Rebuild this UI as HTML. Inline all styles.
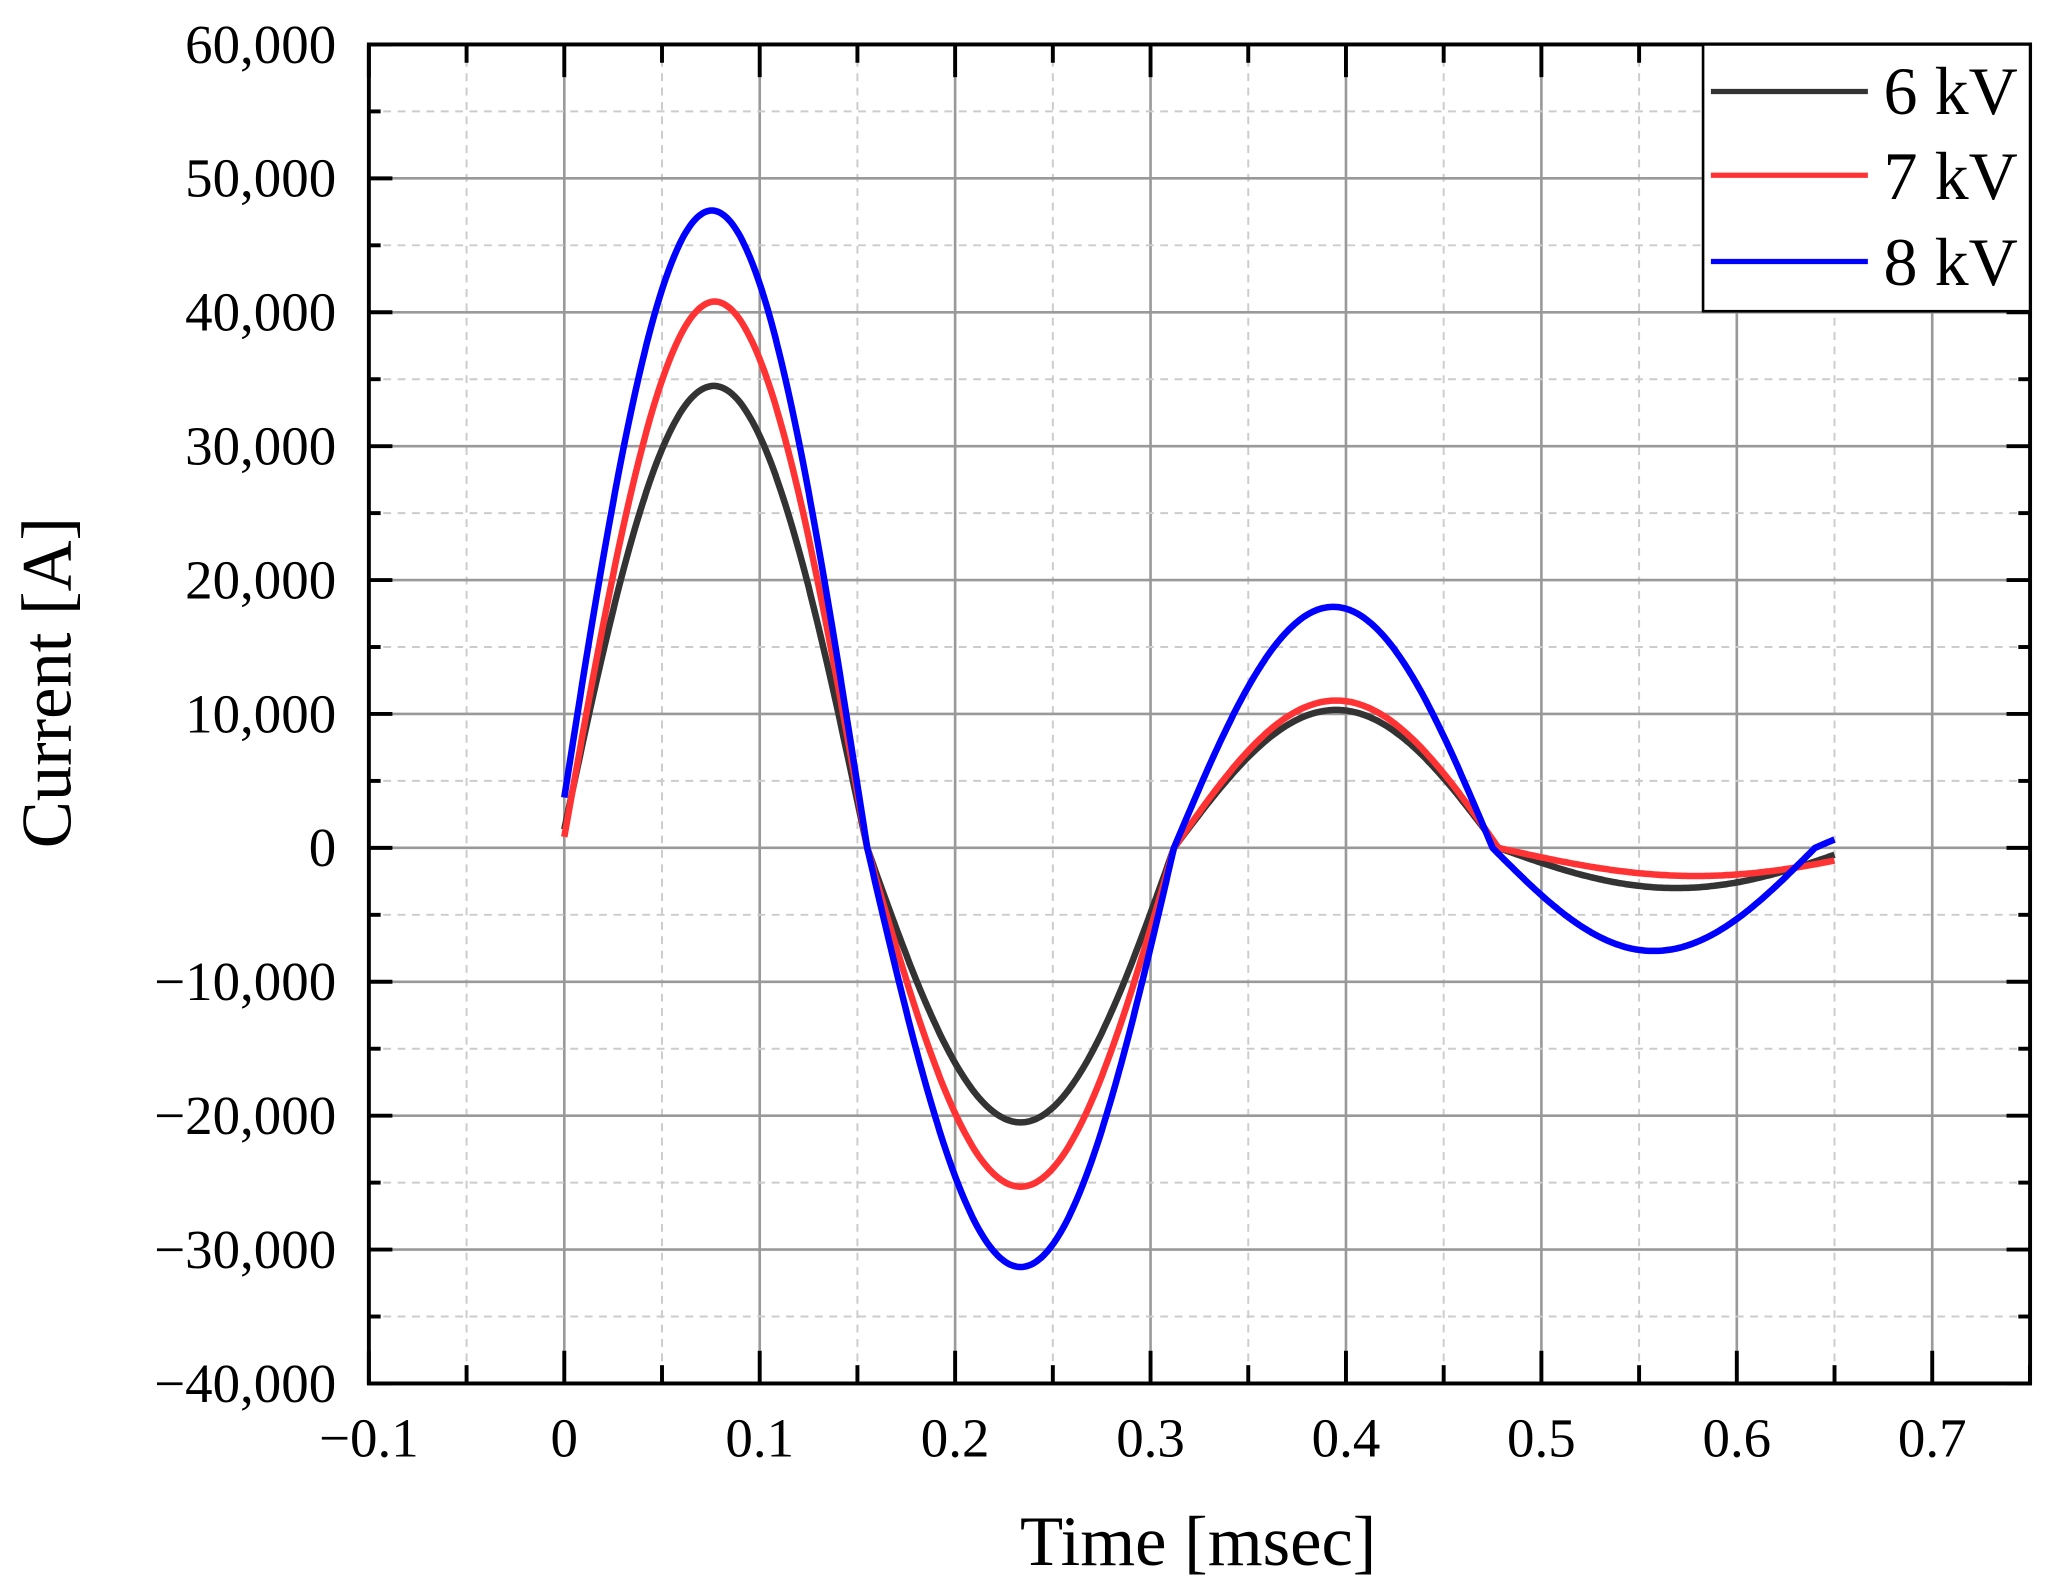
<!DOCTYPE html>
<html><head><meta charset="utf-8"><style>html,body{margin:0;padding:0;background:#fff}svg{display:block}</style></head>
<body>
<svg id="s" width="2051" height="1594" viewBox="0 0 1568 1219" preserveAspectRatio="none" xmlns="http://www.w3.org/2000/svg" font-family="Liberation Serif, serif">
<rect width="1568" height="1219" fill="#fff"/>
<g id="grid"></g>
<g id="curves" fill="none" stroke-width="5" stroke-linejoin="round"></g>
<rect x="282" y="34" width="1270" height="1024" fill="none" stroke="#000" stroke-width="3"/>
<g id="ticks" stroke="#000" stroke-width="3"></g>
<g id="labels" font-size="42" fill="#000"></g>
<text x="916" y="1197" font-size="54" text-anchor="middle">Time [msec]</text>
<text transform="translate(54,522) rotate(-90)" font-size="54" text-anchor="middle">Current [A]</text>
<rect x="1302" y="34" width="250" height="204" fill="#fff" stroke="#000" stroke-width="2"/>
<line x1="1308" y1="70" x2="1428" y2="70" stroke="#333" stroke-width="4"/>
<line x1="1308" y1="134" x2="1428" y2="134" stroke="#ff3333" stroke-width="4"/>
<line x1="1308" y1="200" x2="1428" y2="200" stroke="#0000ff" stroke-width="4"/>
<text x="1440" y="87" font-size="52">6 kV</text>
<text x="1440" y="152" font-size="52">7 kV</text>
<text x="1440" y="218" font-size="52">8 kV</text>
</svg>
<script>
var NS="http://www.w3.org/2000/svg";
function X(t){return 431.4+t*1494}
function Y(v){return 648.4-v*0.01024}
function el(p,tag,a,txt){var e=document.createElementNS(NS,tag);for(var k in a)e.setAttribute(k,a[k]);if(txt!==undefined)e.textContent=txt;document.getElementById(p).appendChild(e);}
for(var i=-2;i<=17;i++){var t=i*0.05,x=X(t);if(x<=283||x>=1551)continue;
 if(i%2==0)el("grid","line",{x1:x,y1:34,x2:x,y2:1058,stroke:"#999","stroke-width":2});
 else el("grid","line",{x1:x,y1:34,x2:x,y2:1058,stroke:"#ccc","stroke-width":1.5,"stroke-dasharray":"6,5"});}
for(var j=-8;j<=12;j++){var v=j*5000,y=Y(v);if(y<=35||y>=1057)continue;
 if(j%2==0)el("grid","line",{x1:282,y1:y,x2:1552,y2:y,stroke:"#999","stroke-width":2});
 else el("grid","line",{x1:282,y1:y,x2:1552,y2:y,stroke:"#ccc","stroke-width":1.5,"stroke-dasharray":"6,5"});}
for(var i=-2;i<=15;i++){var x=X(i*0.05),L=(i%2==0)?25:14;
 el("ticks","line",{x1:x,y1:1058,x2:x,y2:1058-L});el("ticks","line",{x1:x,y1:34,x2:x,y2:34+L});}
for(var j=-8;j<=12;j++){var y=Y(j*5000),L=(j%2==0)?18:9;
 el("ticks","line",{x1:282,y1:y,x2:282+L,y2:y});el("ticks","line",{x1:1552,y1:y,x2:1552-L,y2:y});}
for(var j=-4;j<=6;j++){var v=j*10000,s=Math.abs(v).toLocaleString("en-US");if(v<0)s="\u2212"+s;
 el("labels","text",{x:257,y:Y(v)+14,"text-anchor":"end"},s);}
for(var i=-1;i<=7;i++){var s=(i==0)?"0":(i<0?"\u22120.1":"0."+i);
 el("labels","text",{x:X(i*0.1),y:1114,"text-anchor":"middle"},s);}
function curve(z,a,col,tend,extra){
 var d="",t;
 for(t=0;t<=tend+1e-9;t+=0.001){
  var v=0;
  for(var k=0;k<a.length;k++){if(t>=z[k]&&t<z[k+1]){v=a[k]*Math.sin(Math.PI*(t-z[k])/(z[k+1]-z[k]));break;}}
  if(t>=z[a.length])v=extra*Math.sin(Math.PI*(t-z[a.length])/0.15);
  d+=(d?"L":"M")+X(t).toFixed(1)+","+Y(v).toFixed(1);
 }
 el("curves","path",{d:d,stroke:col});
}
curve([-0.002,0.155,0.312,0.478,0.66],[34500,-20500,10300,-3000],"#333",0.65,0);
curve([-0.001,0.155,0.312,0.478,0.68],[40800,-25300,11000,-2100],"#ff3333",0.65,0);
curve([-0.004,0.155,0.312,0.475,0.64],[47600,-31300,18000,-7700],"#0000ff",0.65,3000);
</script>
</body></html>
